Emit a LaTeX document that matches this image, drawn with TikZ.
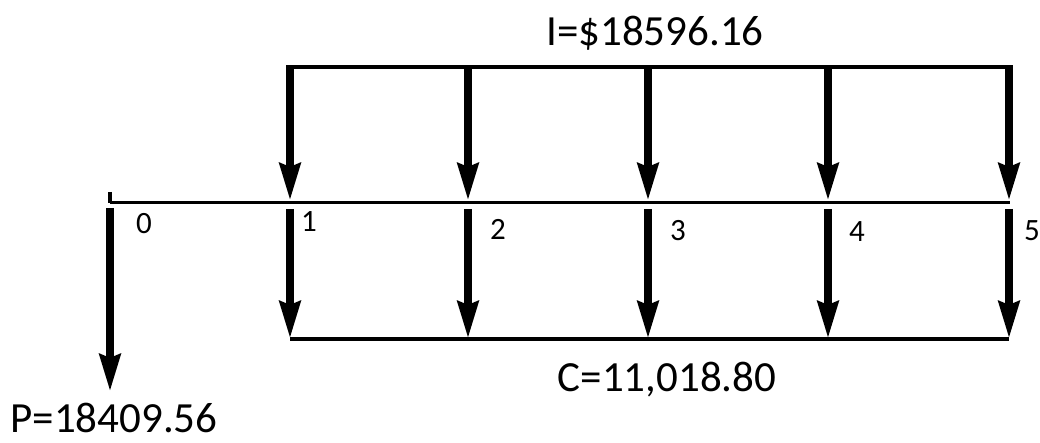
\documentclass[tikz,border=0pt]{standalone}
\usepackage{fontspec}
\setmainfont{Carlito}
\usetikzlibrary{arrows.meta}
\begin{document}
\begin{tikzpicture}[x=1pt,y=-1pt,
  flow/.style={line width=8.5pt,-{Stealth[length=37pt,width=20pt,inset=3pt]}},
  bar/.style={line width=3.5pt},
  axis/.style={line width=3pt},
  big/.style={font=\fontsize{43}{46}\selectfont,inner sep=0pt},
  tlab/.style={font=\fontsize{31}{34}\selectfont,inner sep=0pt}]
\useasboundingbox (0,0) rectangle (1040,443);
% coordinates
\coordinate (a0) at (110,203);
\coordinate (tk) at (110,192);
\coordinate (aE) at (1010,203);
\coordinate (p0) at (110,208);
\coordinate (p1) at (110,392);
\foreach \i/\x in {1/290,2/468,3/648,4/828,5/1009}{
  \coordinate (t\i) at (\x,67);
  \coordinate (m\i) at (\x,201);
  \coordinate (s\i) at (\x,209);
  \coordinate (b\i) at (\x,339);
}
% axis
\draw[axis] (a0) -- (aE);
\draw[line width=4pt] (tk) -- (a0);
% top bar and bottom bar
\draw[bar] ([xshift=-4pt]t1) -- ([xshift=4pt]t5);
\draw[bar] (b1) -- (b5);
% arrows
\foreach \i in {1,...,5}{
  \draw[flow] ([yshift=-1.5pt]t\i) -- (m\i);
  \draw[flow] (s\i) -- (b\i);
}
\draw[flow] (p0) -- (p1);
% labels
\node[big] (I) at (655,33) {I=\$18596.16};
\node[big] (C) at (667,380) {C=11,018.80};
\node[big] (P) at (114,418) {P=18409.56};
\node[tlab] (l0) at (144,224) {0};
\node[tlab] (l1) at (309,222) {1};
\node[tlab] (l2) at (498,229) {2};
\node[tlab] (l3) at (678,231) {3};
\node[tlab] (l4) at (857,232) {4};
\node[tlab] (l5) at (1032,231) {5};
\end{tikzpicture}
\end{document}
